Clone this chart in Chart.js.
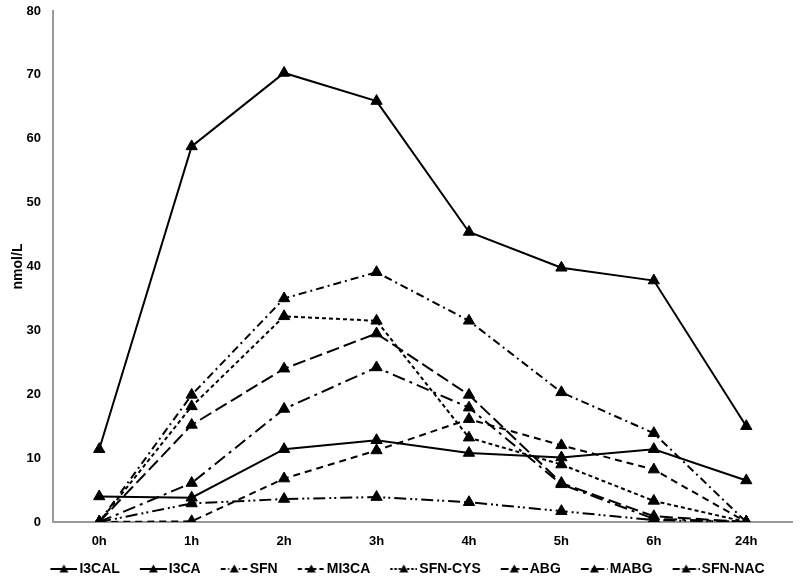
<!DOCTYPE html>
<html><head><meta charset="utf-8">
<script src="https://cdn.jsdelivr.net/npm/chart.js@4"></script>
<style>html,body{margin:0;padding:0;background:#fff}#wrap{width:800px;height:579px}</style>
</head><body><div id="wrap"><canvas id="c" width="800" height="579"></canvas></div>
<script>
const categories = ['0h','1h','2h','3h','4h','5h','6h','24h'];
const seriesNames = ['I3CAL','I3CA','SFN','MI3CA','SFN-CYS','ABG','MABG','SFN-NAC'];
const I3CAL   = [11.4, 58.8, 70.3, 65.9, 45.4, 39.8, 37.8, 15.0];
const I3CA    = [4.0, 3.8, 11.4, 12.8, 10.8, 10.1, 11.4, 6.5];
const SFN     = [0, 19.9, 35.0, 39.1, 31.5, 20.3, 13.9, 0];
const MI3CA   = [0, 0.1, 6.8, 11.2, 16.1, 12.0, 8.2, 0];
const SFN_CYS = [0, 18.1, 32.2, 31.5, 13.2, 9.0, 3.3, 0];
const ABG     = [0, 15.2, 24.0, 29.5, 19.9, 6.1, 0.9, 0];
const MABG    = [0, 6.1, 17.7, 24.2, 17.9, 5.9, 0.5, 0];
const SFN_NAC = [0, 2.9, 3.6, 3.9, 3.1, 1.7, 0.3, 0];
const yTickValues = [0, 10, 20, 30, 40, 50, 60, 70, 80];

const seriesValues = [I3CAL, I3CA, SFN, MI3CA, SFN_CYS, ABG, MABG, SFN_NAC];
const dashes = [[], [], [8,4,2,4], [7,5], [4,3], [13,5], [13,5,3,5], [12,4,2,3,2,4]];
const FONT = 'Liberation Sans, Arial, sans-serif';
const BOXW = 42;

function sample(dash) {
  const W = BOXW + 10, S = 27;
  const c = document.createElement('canvas');
  c.width = W; c.height = 12;
  const g = c.getContext('2d');
  const x0 = W - S;
  g.strokeStyle = '#000'; g.lineWidth = 2;
  g.setLineDash(dash.map(d => d * 0.6));
  g.beginPath(); g.moveTo(x0, 6); g.lineTo(W, 6); g.stroke();
  g.setLineDash([]);
  g.fillStyle = '#000';
  const cx = x0 + S / 2;
  g.beginPath(); g.moveTo(cx, 1.5); g.lineTo(cx + 4.5, 9.5); g.lineTo(cx - 4.5, 9.5); g.closePath(); g.fill();
  return c;
}
const samples = dashes.map(sample);

const datasets = seriesNames.map((n, i) => ({
  label: n,
  data: seriesValues[i],
  borderColor: '#000',
  backgroundColor: '#000',
  borderWidth: 2,
  borderDash: dashes[i],
  pointStyle: 'triangle',
  pointRadius: 6.5,
  pointBorderWidth: 1,
  pointBackgroundColor: '#000',
  pointBorderColor: '#000',
  tension: 0,
  fill: false
}));

new Chart(document.getElementById('c'), {
  type: 'line',
  data: { labels: categories, datasets },
  options: {
    responsive: false,
    animation: false,
    devicePixelRatio: 1,
    layout: { padding: { top: 11, right: 5, left: 0, bottom: -7 } },
    plugins: {
      tooltip: { enabled: false },
      legend: {
        position: 'bottom',
        labels: {
          usePointStyle: true,
          pointStyleWidth: BOXW,
          boxHeight: 12,
          padding: 0,
          color: '#000',
          font: { family: FONT, size: 14, weight: 'bold' },
          generateLabels: (chart) => chart.data.datasets.map((d, i) => ({
            text: d.label, pointStyle: samples[i], fillStyle: '#000', strokeStyle: '#000',
            lineWidth: 0, hidden: false, datasetIndex: i, fontColor: '#000'
          }))
        }
      }
    },
    scales: {
      x: {
        offset: true,
        grid: { display: false, drawTicks: false },
        border: { color: '#999', width: 2 },
        ticks: { color: '#000', padding: 12, font: { family: FONT, size: 13, weight: 'bold' } },
        afterFit: (s) => { s.height = 40; }
      },
      y: {
        min: 0, max: 80,
        afterBuildTicks: (s) => { s.ticks = yTickValues.map(v => ({ value: v })); },
        grid: { display: false, drawTicks: false },
        border: { color: '#999', width: 2 },
        ticks: { color: '#000', padding: 12, font: { family: FONT, size: 13, weight: 'bold' } },
        title: { display: true, text: 'nmol/L', color: '#000', padding: { top: 10, bottom: 0 }, font: { family: FONT, size: 14, weight: 'bold' } },
        afterFit: (s) => { s.width = 53; s.paddingTop = 0; s.paddingBottom = 0; }
      }
    }
  }
});
</script></body></html>
